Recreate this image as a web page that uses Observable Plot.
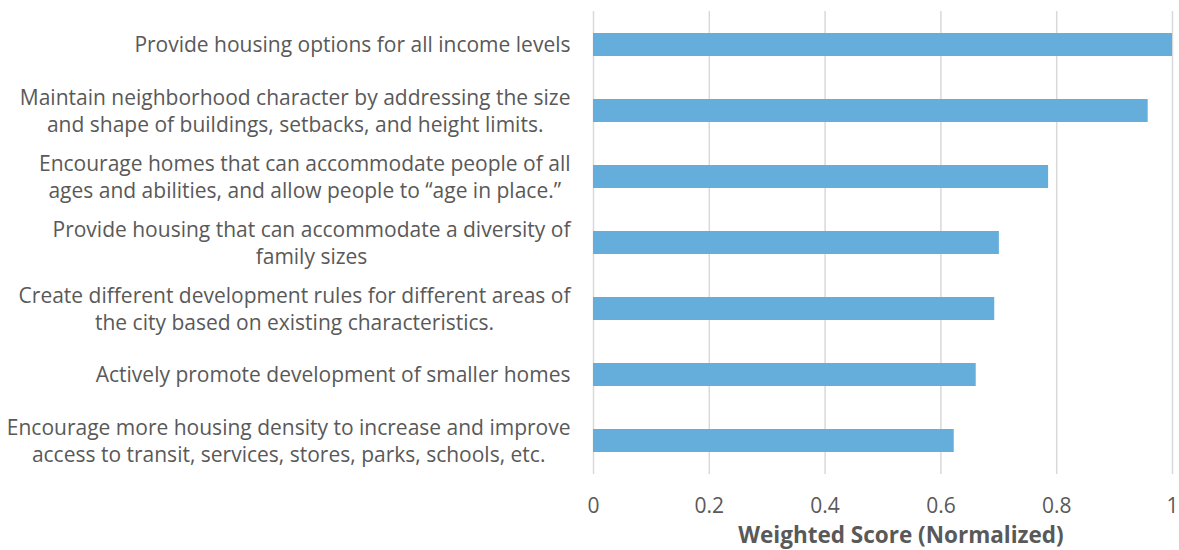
<!DOCTYPE html>
<html><head><meta charset="utf-8">
<script src="https://cdn.jsdelivr.net/npm/d3@7"></script>
<script src="https://cdn.jsdelivr.net/npm/@observablehq/plot@0.6"></script>
<style>body{margin:0;background:#fff;} #chart svg{display:block;}</style>
</head><body><div id="chart"></div>
<script>
const categories = [
  "Provide housing options for all income levels",
  "Maintain neighborhood character by addressing the size\nand shape of buildings, setbacks, and height limits.",
  "Encourage homes that can accommodate people of all\nages and abilities, and allow people to \u201Cage in place.\u201D",
  "Provide housing that can accommodate a diversity of\nfamily sizes",
  "Create different development rules for different areas of\nthe city based on existing characteristics.",
  "Actively promote development of smaller homes",
  "Encourage more housing density to increase and improve\naccess to transit, services, stores, parks, schools, etc."
];
const values = [1.0, 0.958, 0.786, 0.701, 0.693, 0.661, 0.623];
const xTicks = [0, 0.2, 0.4, 0.6, 0.8, 1];
const xTickLabels = ["0", "0.2", "0.4", "0.6", "0.8", "1"];
const axisTitle = "Weighted Score (Normalized)";

const data = categories.map((c, i) => ({category: c, value: values[i]}));
const FONT = "'Open Sans', sans-serif";
const fs = 21;
const textColor = "#595959";
const ctx = document.createElement("canvas").getContext("2d");
ctx.font = `${fs}px "Open Sans"`;
const blockWidth = c => d3.max(c.split("\n"), l => ctx.measureText(l).width);
const gap = 23;

const labelMarks = data.map(d => Plot.text([d], {
  y: "category", text: "category", frameAnchor: "left", textAnchor: "middle",
  dx: -(gap + blockWidth(d.category) / 2), dy: -1, fontSize: fs, lineHeight: 1.26, fill: textColor
}));

const chart = Plot.plot({
  width: 1179, height: 550,
  marginLeft: 593, marginRight: 7, marginTop: 11, marginBottom: 76,
  style: {fontFamily: FONT, fontSize: fs + "px", color: textColor, background: "#fff"},
  x: {domain: [0, 1]},
  y: {domain: categories, paddingInner: 0.65, paddingOuter: 0.325, axis: null},
  marks: [
    Plot.gridX(xTicks, {stroke: "#d9d9d9", strokeOpacity: 1, strokeWidth: 1.5}),
    Plot.barX(data, {y: "category", x: "value", fill: "#65addb"}),
    Plot.axisX(xTicks, {tickSize: 0, tickPadding: 24, label: null, fontSize: fs, fill: textColor,
      tickFormat: d => xTickLabels[xTicks.indexOf(d)]}),
    ...labelMarks,
    Plot.text([axisTitle], {text: d => d, frameAnchor: "bottom", dx: 18, dy: 53, lineAnchor: "top",
      fontWeight: "bold", fontSize: 22.5, fill: textColor})
  ]
});
document.getElementById("chart").appendChild(chart);
</script>
</body></html>
